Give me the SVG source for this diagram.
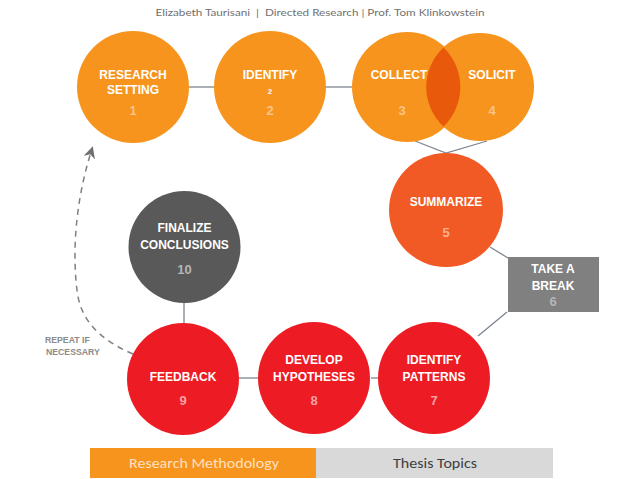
<svg xmlns="http://www.w3.org/2000/svg" width="638" height="479" viewBox="0 0 638 479">
<defs>
<style>
.lbl{font-family:"Liberation Sans",Arial,sans-serif;font-weight:bold;font-size:12px;fill:#ffffff;text-anchor:middle}
.num{font-family:"Liberation Sans",Arial,sans-serif;font-weight:bold;font-size:13px;text-anchor:middle}
.no{fill:#f9c48a}
.nr{fill:#f5a0a0}
.ng{fill:#b5b5b5}
.conn{stroke:#7d8590;stroke-width:1.3;fill:none}
.rep{font-family:"Liberation Sans",Arial,sans-serif;font-weight:bold;font-size:8.7px;fill:#8a8a8a}
</style>
<marker id="arr" viewBox="0 0 10 10" refX="5" refY="5" markerWidth="8" markerHeight="8" orient="auto">
<path d="M0,0 L10,5 L0,10 L3,5 Z" fill="#707070"/>
</marker>
</defs>
<rect width="638" height="479" fill="#ffffff"/>
<text x="320" y="16" font-family="Lato,'Liberation Sans',sans-serif" font-size="10" fill="#707070" text-anchor="middle" textLength="329" lengthAdjust="spacingAndGlyphs" xml:space="preserve">Elizabeth Taurisani  |  Directed Research | Prof. Tom Klinkowstein</text>

<g id="connectors">
<line class="conn" x1="189" y1="87" x2="214" y2="87"/>
<line class="conn" x1="325" y1="87" x2="352" y2="87"/>
<polyline class="conn" points="415,141 446,153 487,141"/>
<line class="conn" x1="490" y1="247" x2="508" y2="258"/>
<line class="conn" x1="507" y1="312" x2="478" y2="336"/>
<line class="conn" x1="371" y1="378" x2="378" y2="378"/>
<line class="conn" x1="239" y1="378" x2="258" y2="378"/>
<line class="conn" x1="184" y1="303" x2="184" y2="323"/>
<path d="M133,354 C100,340 80,320 77,290 C72,250 76,200 91,152" fill="none" stroke="#808080" stroke-width="1.5" stroke-dasharray="6,5" marker-end="url(#arr)"/>
</g>

<g id="n1">
<circle cx="133" cy="87" r="56" fill="#f7941d"/>
<text class="lbl" x="133" y="79">RESEARCH</text>
<text class="lbl" x="133" y="94">SETTING</text>
<text class="num no" x="133" y="115">1</text>
</g>
<g id="n2">
<circle cx="270" cy="87" r="56" fill="#f7941d"/>
<text class="lbl" x="270" y="79">IDENTIFY</text>
<text class="lbl" x="270" y="94" style="font-size:8px">2</text>
<text class="num no" x="270" y="115">2</text>
</g>
<g id="n3">
<circle cx="407" cy="87" r="55" fill="#f7941d"/>
<text class="lbl" x="399" y="79">COLLECT</text>
<text class="num no" x="402" y="115">3</text>
</g>
<g id="n4">
<circle cx="480" cy="87" r="54" fill="#f7941d"/>
<path d="M 443.5 47.4 A 54 54 0 0 0 443.5 126.6 A 55 55 0 0 0 443.5 47.4 Z" fill="#e8590c"/>
<text class="lbl" x="492" y="79">SOLICIT</text>
<text class="num no" x="492" y="115">4</text>
</g>
<g id="n5">
<circle cx="446" cy="210" r="57" fill="#f15a24"/>
<text class="lbl" x="446" y="206">SUMMARIZE</text>
<text class="num" x="446" y="237" fill="#f9b08a">5</text>
</g>
<g id="n6">
<rect x="508" y="257" width="91" height="55" fill="#808080"/>
<text class="lbl" x="553" y="273">TAKE A</text>
<text class="lbl" x="553" y="290">BREAK</text>
<text class="num ng" x="553" y="306">6</text>
</g>
<g id="n7">
<circle cx="434" cy="378" r="56" fill="#ed1c24"/>
<text class="lbl" x="434" y="364">IDENTIFY</text>
<text class="lbl" x="434" y="381">PATTERNS</text>
<text class="num nr" x="434" y="405">7</text>
</g>
<g id="n8">
<circle cx="314" cy="378" r="56" fill="#ed1c24"/>
<text class="lbl" x="314" y="364">DEVELOP</text>
<text class="lbl" x="314" y="381">HYPOTHESES</text>
<text class="num nr" x="314" y="405">8</text>
</g>
<g id="n9">
<circle cx="183" cy="379" r="56" fill="#ed1c24"/>
<text class="lbl" x="183" y="381">FEEDBACK</text>
<text class="num nr" x="183" y="405">9</text>
</g>
<g id="n10">
<circle cx="184.5" cy="247" r="56" fill="#595959"/>
<text class="lbl" x="184.5" y="232">FINALIZE</text>
<text class="lbl" x="184.5" y="249">CONCLUSIONS</text>
<text class="num ng" x="184.5" y="274">10</text>
</g>
<g id="repeat-label">
<text class="rep" x="45" y="343">REPEAT IF</text>
<text class="rep" x="46" y="355">NECESSARY</text>
</g>
<g id="tabs">
<rect x="90" y="448" width="226" height="30" fill="#f7941d"/>
<rect x="316" y="448" width="237" height="30" fill="#d9d9d9"/>
<text x="204" y="468" font-family="Carlito,'Open Sans','Liberation Sans',sans-serif" font-size="15" fill="#fde0c0" text-anchor="middle" textLength="150" lengthAdjust="spacingAndGlyphs">Research Methodology</text>
<text x="435" y="468" font-family="Carlito,'Open Sans','Liberation Sans',sans-serif" font-size="15" fill="#404040" text-anchor="middle" textLength="84" lengthAdjust="spacingAndGlyphs">Thesis Topics</text>
</g>
</svg>
